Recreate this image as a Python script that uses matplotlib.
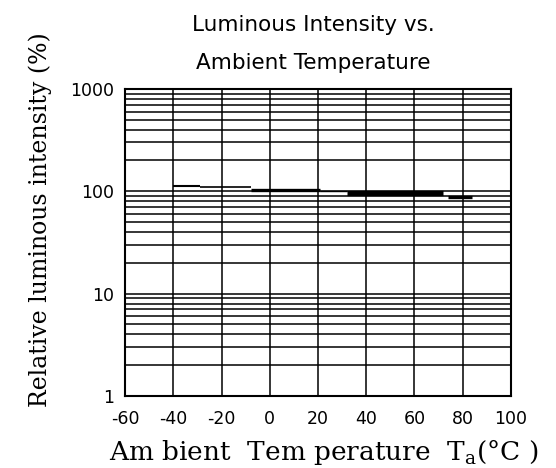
import matplotlib
matplotlib.use("Agg")
import matplotlib.pyplot as plt
from matplotlib.ticker import FixedLocator, LogLocator, NullFormatter

# stepped curve: each step runs from start to end temperature
seg_start = [-40, -29, -8, 21, 32, 74]
seg_end = [-29, -8, 21, 32, 72, 84]
seg_value = [112, 109, 103, 101, 97, 88]

x_ticks = [-60, -40, -20, 0, 20, 40, 60, 80, 100]
x_labels = ["-60", "-40", "-20", "0", "20", "40", "60", "80", "100"]
y_ticks = [1, 10, 100, 1000]
y_labels = ["1", "10", "100", "1000"]

# line widths of the steps (the scan shows some heavier than others)
seg_width = [1.5, 1.2, 2.4, 1.0, 3.8, 2.4]

fig = plt.figure(figsize=(5.56, 4.68), dpi=100)
ax = fig.add_axes([0.225, 0.154, 0.694, 0.656])

ax.set_yscale("log")
ax.set_xlim(-60, 100)
ax.set_ylim(1, 1000)

ax.hlines(seg_value, seg_start, seg_end, colors="black", linewidth=seg_width, zorder=3)

ax.xaxis.set_major_locator(FixedLocator(x_ticks))
ax.set_xticklabels(x_labels)
ax.yaxis.set_major_locator(FixedLocator(y_ticks))
ax.yaxis.set_minor_locator(LogLocator(base=10, subs=range(2, 10)))
ax.yaxis.set_minor_formatter(NullFormatter())
ax.set_yticklabels(y_labels)

ax.grid(True, which="major", axis="x", color="black", linewidth=1.1)
ax.grid(True, which="both", axis="y", color="black", linewidth=1.1)
ax.tick_params(which="both", length=0)
ax.tick_params(axis="x", pad=10, labelsize=12.5)
ax.tick_params(axis="y", pad=8, labelsize=12.5)
for s in ax.spines.values():
    s.set_linewidth(1.5)

ax.set_xlabel("Am bient  Tem perature  T$_\\mathregular{a}$(°C )", family="DejaVu Serif",
              fontsize=19)
ax.xaxis.set_label_coords(0.516, -0.135)
ax.set_ylabel("Relative luminous intensity (%)", family="DejaVu Serif", fontsize=17)
ax.yaxis.set_label_coords(-0.19, 0.573)

fig.text(0.563, 0.947, "Luminous Intensity vs.", ha="center", va="center", fontsize=15.5)
fig.text(0.563, 0.866, "Ambient Temperature", ha="center", va="center", fontsize=15.5)

fig.savefig("out.png", dpi=100)
